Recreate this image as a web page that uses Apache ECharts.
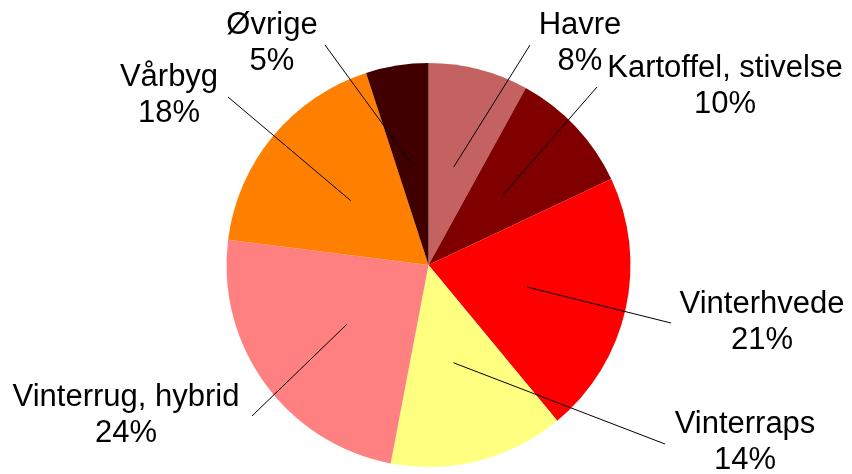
<!DOCTYPE html>
<html>
<head>
<meta charset="utf-8">
<script src="https://cdn.jsdelivr.net/npm/echarts@6/dist/echarts.min.js"></script>
<style>html,body{margin:0;padding:0;background:#fff}#c{width:852px;height:474px}</style>
</head>
<body>
<div id="c"></div>
<script>
// Data
var categories = ['Havre', 'Kartoffel, stivelse', 'Vinterhvede', 'Vinterraps', 'Vinterrug, hybrid', 'Vårbyg', 'Øvrige'];
var shares = [8, 10, 21, 14, 24, 18, 5];
var colors = ['#C46262', '#800000', '#FF0000', '#FFFF80', '#FF8080', '#FF8000', '#400000'];

// Layout (label anchor centers and leader-line outer ends)
var CX = 428.5, CY = 265, R = 202;
var labelPos = [[580, 43], [725, 86], [762, 322], [745, 442], [126, 415], [169, 95], [272, 43]];
var lineEnd = [[530, 45], [597, 87], [671, 323], [665, 444], [252, 416], [228, 97], [325, 45]];

var total = shares.reduce(function (a, b) { return a + b; }, 0);
var mids = [];
var acc = 0;
shares.forEach(function (v) { mids.push((acc + v / 2) / total); acc += v; });

var chart = echarts.init(document.getElementById('c'), null, {renderer: 'canvas'});
var base = {
  type: 'pie',
  center: [CX, CY],
  radius: [0, R],
  startAngle: 90,
  clockwise: true,
  avoidLabelOverlap: false,
  emphasis: {disabled: true},
  silent: true
};
chart.setOption({
  animation: false,
  series: [
    Object.assign({}, base, {
      z: 2,
      data: categories.map(function (n, i) {
        return {name: n, value: shares[i], itemStyle: {color: colors[i]}};
      }),
      itemStyle: {borderWidth: 0},
      label: {show: false},
      labelLine: {show: false}
    }),
    Object.assign({}, base, {
      z: 5,
      data: categories.map(function (n, i) {
        return {name: n, value: shares[i]};
      }),
      itemStyle: {color: 'rgba(0,0,0,0)', borderWidth: 0},
      label: {
        show: true,
        formatter: function (p) { return p.name + '\n' + shares[p.dataIndex] + '%'; },
        fontFamily: 'Liberation Sans, Arial, sans-serif',
        fontSize: 31,
        lineHeight: 36,
        color: '#000',
        align: 'center'
      },
      labelLine: {show: true, lineStyle: {color: '#000', width: 1}, smooth: false},
      labelLayout: function (params) {
        var i = params.dataIndex;
        var th = mids[i] * 2 * Math.PI;
        var sx = CX + 0.5 * R * Math.sin(th);
        var sy = CY - 0.5 * R * Math.cos(th);
        var e = lineEnd[i];
        return {
          x: labelPos[i][0],
          y: labelPos[i][1],
          align: 'center',
          verticalAlign: 'middle',
          labelLinePoints: [[sx, sy], [(sx + e[0]) / 2, (sy + e[1]) / 2], [e[0], e[1]]]
        };
      }
    })
  ]
});
</script>
</body>
</html>
